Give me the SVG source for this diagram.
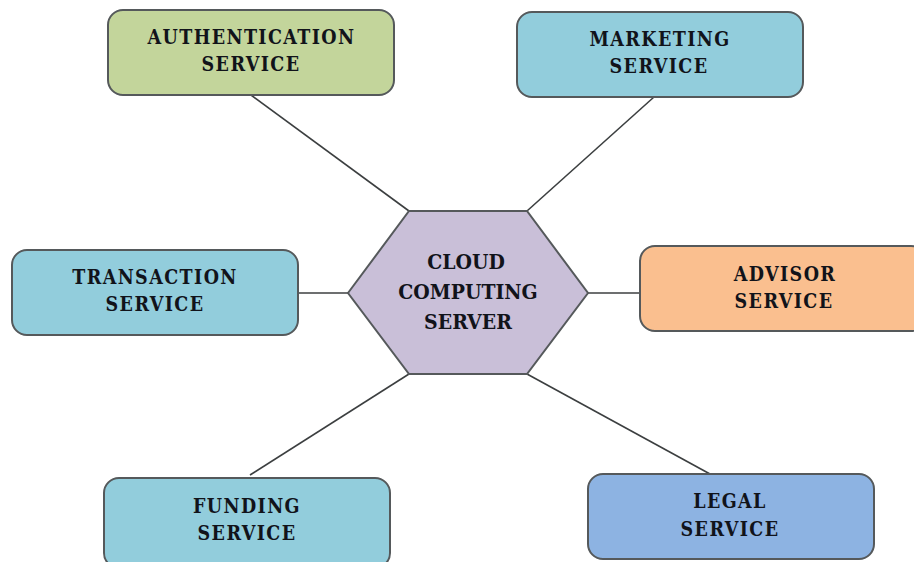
<svg xmlns="http://www.w3.org/2000/svg" width="914" height="562" viewBox="0 0 914 562">
<style>
.n{stroke:#55595b;stroke-width:2}
.t{font-family:"DejaVu Serif","Liberation Serif",serif;font-stretch:condensed;font-weight:bold;font-size:19.5px;fill:#11131a;text-anchor:middle;letter-spacing:1.4px}
.b{font-size:21px;letter-spacing:0}
#connectors line{stroke:#3c3f40;stroke-width:1.6}
</style>
<rect width="914" height="562" fill="#fff"/>
<g id="connectors">
<line x1="251" y1="95" x2="409" y2="211"/>
<line x1="654" y1="97" x2="527" y2="211"/>
<line x1="298" y1="293" x2="348" y2="293"/>
<line x1="588" y1="293" x2="640" y2="293"/>
<line x1="409" y1="374" x2="250" y2="475"/>
<line x1="527" y1="374" x2="710" y2="474"/>
</g>
<g id="hub"><polygon class="n" points="348,293 409,211 527,211 588,293 527,374 409,374" fill="#c9bfd8"/>
<text class="t b" x="466" y="269">CLOUD</text><text class="t b" x="468" y="299">COMPUTING</text><text class="t b" x="468" y="329">SERVER</text></g>
<g id="auth"><rect class="n" x="108" y="10" width="286" height="85" rx="15" fill="#c3d59b"/>
<text class="t" x="251.500" y="44">AUTHENTICATION</text><text class="t" x="251" y="71">SERVICE</text></g>
<g id="marketing"><rect class="n" x="517" y="12" width="286" height="85" rx="15" fill="#92cddc"/>
<text class="t" x="660" y="46">MARKETING</text><text class="t" x="659" y="73">SERVICE</text></g>
<g id="transaction"><rect class="n" x="12" y="250" width="286" height="85" rx="15" fill="#92cddc"/>
<text class="t" x="155" y="284">TRANSACTION</text><text class="t" x="155" y="311">SERVICE</text></g>
<g id="advisor"><rect class="n" x="640" y="246" width="286" height="85" rx="15" fill="#fabf8f"/>
<text class="t" x="785" y="281">ADVISOR</text><text class="t" x="784" y="308">SERVICE</text></g>
<g id="funding"><rect class="n" x="104" y="478" width="286" height="90" rx="15" fill="#92cddc"/>
<text class="t" x="247" y="513">FUNDING</text><text class="t" x="247" y="540">SERVICE</text></g>
<g id="legal"><rect class="n" x="588" y="474" width="286" height="85" rx="15" fill="#8db3e2"/>
<text class="t" x="730" y="508">LEGAL</text><text class="t" x="730" y="536">SERVICE</text></g>
</svg>
